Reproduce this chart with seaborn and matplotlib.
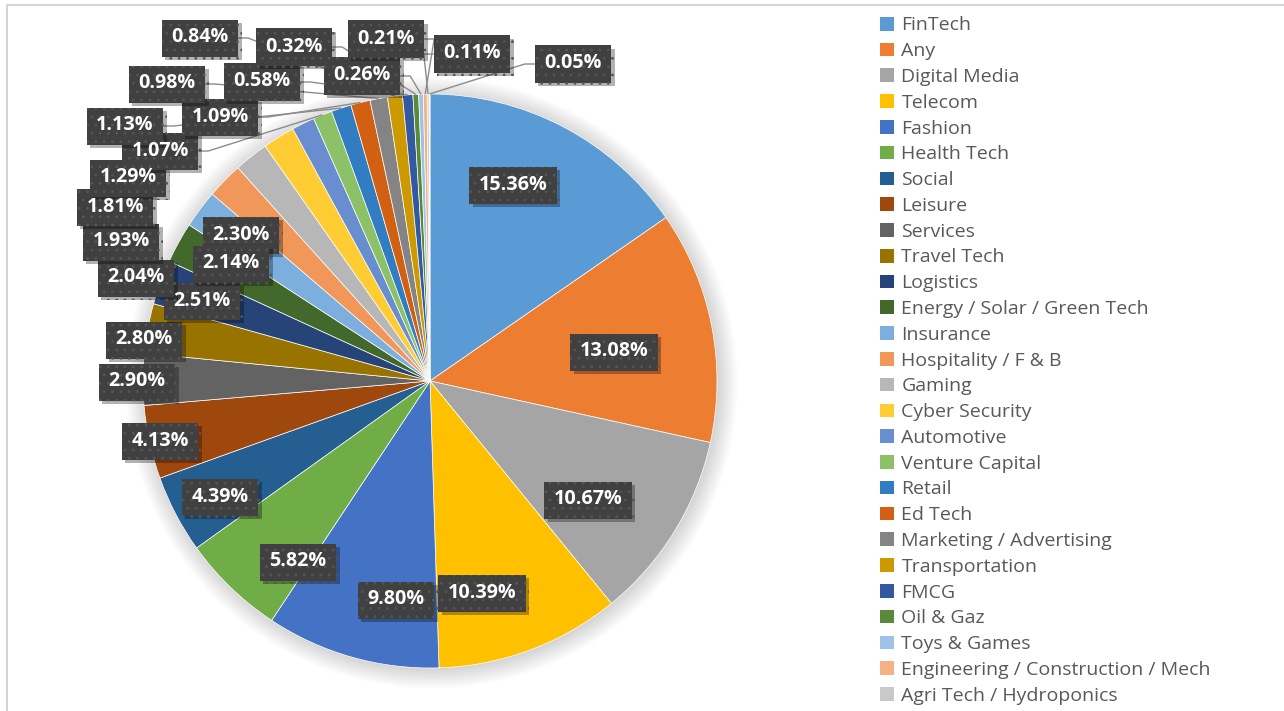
import numpy as np
import matplotlib
matplotlib.use("Agg")
import matplotlib.pyplot as plt
import seaborn as sns
from matplotlib.font_manager import FontProperties
from matplotlib.lines import Line2D
from matplotlib.patches import Circle, Rectangle
import matplotlib.patheffects as pe

# ---------------- data ----------------
categories = ["FinTech", "Any", "Digital Media", "Telecom", "Fashion", "Health Tech",
              "Social", "Leisure", "Services", "Travel Tech", "Logistics",
              "Energy / Solar / Green Tech", "Insurance", "Hospitality / F & B", "Gaming",
              "Cyber Security", "Automotive", "Venture Capital", "Retail", "Ed Tech",
              "Marketing / Advertising", "Transportation", "FMCG", "Oil & Gaz",
              "Toys & Games", "Engineering / Construction / Mech",
              "Agri Tech / Hydroponics", "Other"]
shares = [15.36, 13.08, 10.67, 10.39, 9.80, 5.82, 4.39, 4.13, 2.90, 2.80, 2.51,
          2.30, 2.14, 2.04, 1.93, 1.81, 1.29, 1.07, 1.13, 1.09, 0.98, 0.84, 0.58,
          0.32, 0.26, 0.21, 0.11, 0.05]
colors_hex = ["#5B9BD5", "#ED7D31", "#A5A5A5", "#FFC000", "#4472C4", "#70AD47",
              "#255E91", "#9E480E", "#636363", "#997300", "#264478", "#43682B",
              "#7CAFDD", "#F1975A", "#B7B7B7", "#FFCD33", "#698ED0", "#8CC168",
              "#327DC2", "#D26012", "#848484", "#CC9A00", "#335AA1", "#5A8A39",
              "#9DC3E6", "#F4B183", "#C9C9C9", "#FFD966"]
legend_count = 27  # the reference legend is cut off after the 27th entry

# ---------------- layout (pixel positions of data-label boxes) ----------------
label_px = [(513, 185), (614, 352), (588, 500), (482, 593), (396, 600), (298, 562),
            (220, 497), (160, 441), (137, 382), (144, 340), (202, 301),
            (241, 235), (231, 264), (136, 278), (121, 242), (115, 207), (128, 178),
            (160, 151), (125, 126), (220, 117), (167, 84), (200, 38), (262, 82),
            (294, 47), (362, 76), (386, 39), (472, 54), (573, 64)]

W, H = 1284, 711
CX, CY, R = 430, 381, 287
BOX_H, BOX_PADX = 37, 9.5

sns.set_theme(style="white")
plt.rcParams["hatch.linewidth"] = 0.8
palette = sns.color_palette(colors_hex)

fig = plt.figure(figsize=(W / 100, H / 100), dpi=100)
ax = fig.add_axes([0, 0, 1, 1])

def to_data(px, py):
    return ((px - CX) / R, (CY - py) / R)

# soft shadow behind pie
for k in range(14):
    ax.add_patch(Circle((0.006, -0.006), 1.0 + 0.005 * k, color="black",
                        alpha=0.010, lw=0, zorder=0))

wedges, _ = ax.pie(shares, colors=palette, startangle=90, counterclock=False,
                   radius=1, center=(0, 0),
                   wedgeprops=dict(edgecolor="white", linewidth=0.5))
for w in wedges:
    w.set_zorder(1)

ax.set_xlim(-CX / R, (W - CX) / R)
ax.set_ylim(-(H - CY) / R, CY / R)
ax.set_aspect("auto")
ax.axis("off")

lab_font = FontProperties(family="Open Sans", weight="bold", size=14.2)
texts = []
for v, (px, py) in zip(shares, label_px):
    x, y = to_data(px, py)
    t = ax.text(x, y + 0.5 / R, f"{v:.2f}%", ha="center", va="center", color="white",
                fontproperties=lab_font, zorder=5)
    texts.append(t)

fig.canvas.draw()
renderer = fig.canvas.get_renderer()

boxes = []
for t, (px, py) in zip(texts, label_px):
    bb = t.get_window_extent(renderer)
    bw = bb.width + 2 * BOX_PADX
    x, y = to_data(px, py)
    x0, y0 = x - bw / 2 / R, y - BOX_H / 2 / R
    rect = Rectangle((x0, y0), bw / R, BOX_H / R, facecolor="#404040",
                     edgecolor="#555555", lw=0, hatch="..", zorder=4)
    rect.set_path_effects([pe.withSimplePatchShadow(offset=(2.5, -2.5),
                                                    shadow_rgbFace="black", alpha=0.3),
                           pe.Normal()])
    ax.add_patch(rect)
    boxes.append((x0, y0, x0 + bw / R, y0 + BOX_H / R))

# leader lines for the small slices
angles = 90 - 360 * (np.cumsum(shares) - np.array(shares) / 2) / 100.0
for v, (x0, y0, x1, y1), ang in zip(shares, boxes, angles):
    if v >= 1.2:
        continue
    ymid = (y0 + y1) / 2
    axp, ayp = np.cos(np.radians(ang)), np.sin(np.radians(ang))
    if axp > x1:
        sx, ex = x1, x1 + 10 / R
    else:
        sx, ex = x0, x0 - 10 / R
    ax.plot([sx, ex, axp], [ymid, ymid, ayp], color="#8c8c8c", lw=1.0,
            zorder=3, solid_capstyle="butt")

# legend
leg = fig.legend(handles=wedges[:legend_count], labels=categories[:legend_count],
                 loc="upper left",
                 bbox_to_anchor=(880 / W, 1 - 16.5 / H), frameon=False,
                 prop=FontProperties(family="Open Sans", size=14),
                 labelcolor="#595959", handlelength=0.72, handleheight=0.70,
                 handletextpad=0.38, labelspacing=0.40, borderpad=0,
                 borderaxespad=0)
for h in leg.legend_handles:
    h.set_linewidth(0)

# chart-area border (top and left visible)
fig.add_artist(Line2D([7 / W, 7 / W], [0, 1 - 5 / H], color="#d0d0d0", lw=1.3))
fig.add_artist(Line2D([7 / W, 1], [1 - 5 / H, 1 - 5 / H], color="#d0d0d0", lw=1.3))

fig.savefig("out.png", dpi=100, facecolor="white")
